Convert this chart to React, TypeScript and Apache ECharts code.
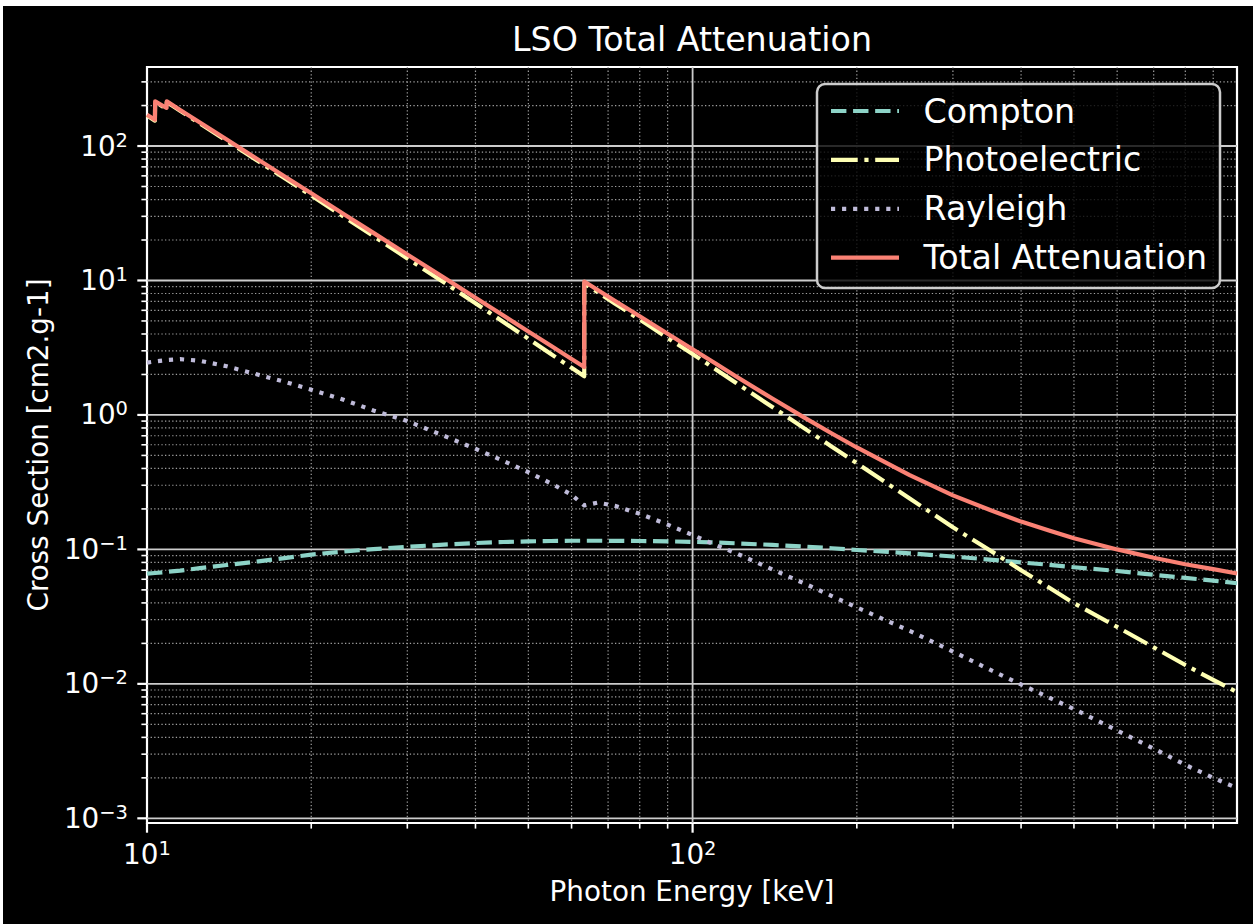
import React, { useEffect, useRef } from 'react';
import * as echarts from 'echarts';

// Photon energies (keV) shared by all four curves
const energyKeV = [
  10, 10.34, 10.35, 10.86, 10.87, 11.5, 12.5, 14, 16, 18,
  20, 23, 26, 30, 35, 40, 45, 50, 55, 60,
  63.3, 63.31, 67, 72, 80, 90, 100, 110, 120, 140,
  160, 180, 200, 250, 300, 350, 400, 450, 500, 600,
  700, 800, 900, 995,
];

// Mass cross sections, cm2/g
const compton = [
  0.066, 0.0668, 0.0668, 0.068, 0.068, 0.0695, 0.0725, 0.0765, 0.0815, 0.0865,
  0.0915, 0.0965, 0.1005, 0.1045, 0.1085, 0.1115, 0.1135, 0.1148, 0.1155, 0.116,
  0.116, 0.116, 0.116, 0.1158, 0.1155, 0.1148, 0.1138, 0.1125, 0.111, 0.108,
  0.105, 0.102, 0.099, 0.0935, 0.0885, 0.084, 0.08, 0.0768, 0.0737, 0.0691,
  0.0648, 0.0614, 0.0586, 0.056,
];

const photoelectric = [
  168.5, 154.4, 212.4, 189.4, 212.4, 182.9, 147.0, 109.3, 77.0, 56.5,
  42.9, 29.6, 21.4, 14.6, 9.69, 6.76, 4.91, 3.69, 2.84, 2.24,
  1.94, 9.5, 8.17, 6.75, 5.12, 3.74, 2.84, 2.195, 1.735, 1.146,
  0.798, 0.58, 0.437, 0.239, 0.146, 0.099, 0.07, 0.052, 0.0398, 0.0265,
  0.0187, 0.0138, 0.0107, 0.0087,
];

const rayleigh = [
  2.45, 2.5, 2.5, 2.56, 2.56, 2.6, 2.53, 2.3, 1.99, 1.75,
  1.54, 1.29, 1.08, 0.9, 0.7, 0.56, 0.455, 0.375, 0.31, 0.255,
  0.212, 0.214, 0.223, 0.211, 0.184, 0.153, 0.128, 0.108, 0.094, 0.071,
  0.056, 0.045, 0.037, 0.0248, 0.0174, 0.0128, 0.0099, 0.0079, 0.0065, 0.0045,
  0.0033, 0.0025, 0.002, 0.00168,
];

const totalAttenuation = [
  171, 157, 215, 192, 215, 185.6, 149.6, 111.7, 79.1, 58.3,
  44.5, 31.0, 22.6, 15.6, 10.5, 7.43, 5.48, 4.18, 3.27, 2.61,
  2.27, 9.83, 8.51, 7.08, 5.42, 4.01, 3.08, 2.42, 1.94, 1.325,
  0.959, 0.727, 0.573, 0.357, 0.252, 0.197, 0.161, 0.138, 0.121, 0.1,
  0.0866, 0.0776, 0.0713, 0.0662,
];

// Axis ranges and tick positions
const X_MIN = 10;
const X_MAX = 995;
const Y_MIN = 0.000923;
const Y_MAX = 387;

const xMajorTicks = [10, 100];
const xMinorTicks = [20, 30, 40, 50, 60, 70, 80, 90, 200, 300, 400, 500, 600, 700, 800, 900];
const yMajorTicks = [0.001, 0.01, 0.1, 1, 10, 100];
const yMinorDecades = [0.001, 0.01, 0.1, 1, 10];
const yMinorSteps = [2, 3, 4, 5, 6, 7, 8, 9];
const yMinorTop = [200, 300];

const seriesNames = ['Compton', 'Photoelectric', 'Rayleigh', 'Total Attenuation'];
const seriesValues = [compton, photoelectric, rayleigh, totalAttenuation];

const FONT = '"DejaVu Sans", "Liberation Sans", sans-serif';
const LW = 4.17;
const seriesStyles = [
  { color: '#8dd3c7', dash: [15.4, 6.67] as number[] | 'solid' },
  { color: '#feffb3', dash: [26.7, 6.67, 4.17, 6.67] as number[] | 'solid' },
  { color: '#bfbbd9', dash: [4.17, 6.88] as number[] | 'solid' },
  { color: '#fa8174', dash: 'solid' as number[] | 'solid' },
];

const yMinorTicks = [
  ...yMinorDecades.flatMap((d) => yMinorSteps.map((s) => +(d * s).toPrecision(6))),
  ...yMinorTop,
];

// grid data: [x, y, kind]  kind 0/1 = vertical major/minor, 2/3 = horizontal major/minor
const gridData = [
  ...xMajorTicks.map((v) => [v, Y_MIN, 0]),
  ...xMinorTicks.map((v) => [v, Y_MIN, 1]),
  ...yMajorTicks.map((v) => [X_MIN, v, 2]),
  ...yMinorTicks.map((v) => [X_MIN, v, 3]),
];

const powerLabel = (v: number) => {
  const e = Math.log10(v);
  const r = Math.round(e);
  if (Math.abs(e - r) > 1e-6) return '';
  return `{b|10}{s|${r < 0 ? '\u2212' + -r : r}}`;
};

const labelRich = {
  b: { fontSize: 27.8, lineHeight: 32, color: '#ffffff', fontFamily: FONT },
  s: { fontSize: 19.5, lineHeight: 19.5, verticalAlign: 'top', color: '#ffffff', fontFamily: FONT },
};

const renderGrid = (params: any, api: any) => {
  const kind = api.value(2);
  const cs = params.coordSys;
  const left = cs.x;
  const top = cs.y;
  const right = cs.x + cs.width;
  const bottom = cs.y + cs.height;
  const major = kind === 0 || kind === 2;
  const gridStyle = major
    ? { stroke: '#cccccc', lineWidth: 1.8 }
    : { stroke: '#a0a0a0', lineWidth: 1.2, lineDash: [1.3, 2.3] };
  const tickStyle = { stroke: '#ffffff', lineWidth: major ? 2.2 : 1.6 };
  const tickLen = major ? 9.7 : 5.6;
  const pt = api.coord([api.value(0), api.value(1)]);
  const children: any[] = [];
  if (kind < 2) {
    const px = pt[0];
    if (px > left + 1 && px < right - 1) {
      children.push({ type: 'line', shape: { x1: px, y1: top, x2: px, y2: bottom }, style: gridStyle });
    }
    children.push({ type: 'line', shape: { x1: px, y1: bottom, x2: px, y2: bottom + tickLen }, style: tickStyle });
  } else {
    const py = pt[1];
    if (py > top + 1 && py < bottom - 1) {
      children.push({ type: 'line', shape: { x1: left, y1: py, x2: right, y2: py }, style: gridStyle });
    }
    children.push({ type: 'line', shape: { x1: left - tickLen, y1: py, x2: left, y2: py }, style: tickStyle });
  }
  return { type: 'group', children };
};

// Legend box drawn with graphic elements
const LEG_X = 814;
const LEG_Y = 78;
const LEG_W = 403;
const LEG_H = 204;
const LEG_ROW0 = 105;
const LEG_ROW_GAP = 48.9;

const legendGraphics: any[] = [
  {
    type: 'rect',
    z: 100,
    shape: { x: LEG_X, y: LEG_Y, width: LEG_W, height: LEG_H, r: 8 },
    style: { fill: 'rgba(0,0,0,0.8)', stroke: '#cccccc', lineWidth: 2.5 },
  },
  ...seriesNames.flatMap((name, i) => {
    const y = LEG_ROW0 + i * LEG_ROW_GAP;
    const st = seriesStyles[i];
    return [
      {
        type: 'line',
        z: 101,
        shape: { x1: 828, y1: y, x2: 896, y2: y },
        style: {
          stroke: st.color,
          lineWidth: LW,
          lineDash: st.dash === 'solid' ? null : st.dash,
          lineCap: 'butt',
        },
      },
      {
        type: 'text',
        z: 101,
        x: 920.5,
        y,
        style: {
          text: name,
          fill: '#ffffff',
          fontSize: 33.3,
          fontFamily: FONT,
          align: 'left',
          verticalAlign: 'middle',
        },
      },
    ];
  }),
];

const option: any = {
  animation: false,
  backgroundColor: '#000000',
  title: {
    text: 'LSO Total Attenuation',
    left: 689,
    top: 17,
    textAlign: 'center',
    padding: 0,
    textStyle: { color: '#ffffff', fontSize: 33.3, fontWeight: 'normal', fontFamily: FONT },
  },
  grid: {
    left: 144,
    top: 61,
    width: 1090,
    height: 756,
    show: true,
    backgroundColor: '#000000',
    borderColor: '#ffffff',
    borderWidth: 2.2,
    containLabel: false,
    outerBoundsMode: 'none',
  },
  xAxis: {
    type: 'log',
    logBase: 10,
    min: X_MIN,
    max: X_MAX,
    name: 'Photon Energy [keV]',
    nameLocation: 'middle',
    nameGap: 54,
    nameTextStyle: { color: '#ffffff', fontSize: 27.8, fontFamily: FONT },
    axisLine: { show: false },
    axisTick: { show: false },
    splitLine: { show: false },
    minorTick: { show: false },
    minorSplitLine: { show: false },
    axisLabel: {
      formatter: powerLabel,
      rich: labelRich,
      margin: 15.5,
      color: '#ffffff',
      fontSize: 27.8,
      fontFamily: FONT,
    },
  },
  yAxis: {
    type: 'log',
    logBase: 10,
    min: Y_MIN,
    max: Y_MAX,
    name: 'Cross Section [cm2.g-1]',
    nameLocation: 'middle',
    nameGap: 95,
    nameTextStyle: { color: '#ffffff', fontSize: 27.8, fontFamily: FONT },
    axisLine: { show: false },
    axisTick: { show: false },
    splitLine: { show: false },
    minorTick: { show: false },
    minorSplitLine: { show: false },
    axisLabel: {
      formatter: powerLabel,
      rich: labelRich,
      margin: 19,
      color: '#ffffff',
      fontSize: 27.8,
      fontFamily: FONT,
    },
  },
  graphic: legendGraphics,
  series: [
    {
      type: 'custom',
      name: 'grid',
      silent: true,
      clip: false,
      z: 1,
      renderItem: renderGrid,
      data: gridData,
    },
    ...seriesNames.map((name, i) => ({
      type: 'line',
      name,
      z: 2,
      silent: true,
      symbol: 'none',
      showSymbol: false,
      clip: true,
      data: energyKeV.map((e, j) => [e, seriesValues[i][j]]),
      lineStyle: {
        color: seriesStyles[i].color,
        width: LW,
        type: seriesStyles[i].dash,
        cap: 'butt',
        join: 'round',
      },
    })),
  ],
};

export default function App() {
  const ref = useRef<HTMLDivElement>(null);
  useEffect(() => {
    const chart = echarts.init(ref.current as HTMLDivElement, null, { renderer: 'svg' });
    chart.setOption(option);
    return () => chart.dispose();
  }, []);
  return (
    <div
      ref={ref}
      style={{ position: 'absolute', left: 3, top: 6, width: 1250, height: 918 }}
    />
  );
}
